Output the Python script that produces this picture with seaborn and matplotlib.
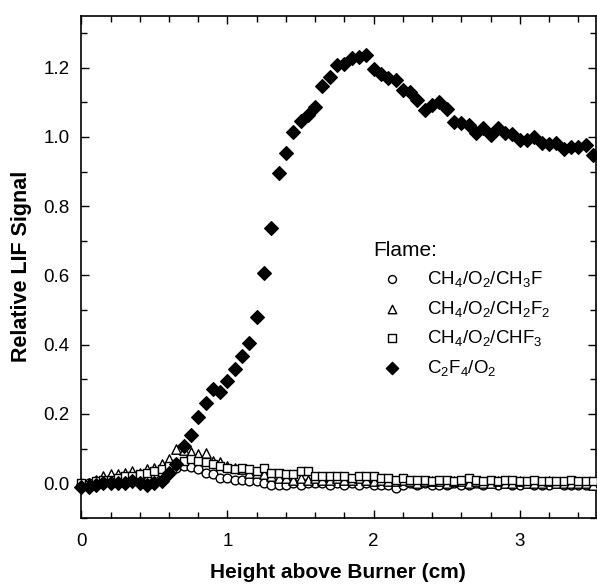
import numpy as np
import pandas as pd
import matplotlib
matplotlib.use('Agg')
import matplotlib.pyplot as plt
from matplotlib.ticker import MultipleLocator, FormatStrFormatter
import seaborn as sns

height = [0.00, 0.05, 0.10, 0.15, 0.20, 0.25, 0.30, 0.35, 0.40, 0.45,
          0.50, 0.55, 0.60, 0.65, 0.70, 0.75, 0.80, 0.85, 0.90, 0.95,
          1.00, 1.05, 1.10, 1.15, 1.20, 1.25, 1.30, 1.35, 1.40, 1.45,
          1.50, 1.55, 1.60, 1.65, 1.70, 1.75, 1.80, 1.85, 1.90, 1.95,
          2.00, 2.05, 2.10, 2.15, 2.20, 2.25, 2.30, 2.35, 2.40, 2.45,
          2.50, 2.55, 2.60, 2.65, 2.70, 2.75, 2.80, 2.85, 2.90, 2.95,
          3.00, 3.05, 3.10, 3.15, 3.20, 3.25, 3.30, 3.35, 3.40, 3.45,
          3.50]

ch3f = [-0.005, 0.000, 0.005, 0.005, 0.010, 0.010, 0.010, 0.015, 0.015, 0.020,
        0.025, 0.030, 0.040, 0.045, 0.050, 0.048, 0.040, 0.030, 0.025, 0.015,
        0.015, 0.010, 0.010, 0.005, 0.005, 0.000, -0.005, -0.005, -0.005, 0.000,
        -0.005, 0.000, 0.000, 0.000, -0.005, 0.000, -0.005, 0.000, -0.005, 0.000,
        -0.005, -0.005, -0.005, -0.015, -0.005, 0.000, -0.005, 0.000, -0.005, -0.005,
        -0.005, 0.000, -0.005, -0.005, 0.000, -0.005, 0.000, -0.005, 0.000, -0.005,
        -0.005, 0.000, -0.005, -0.005, -0.005, 0.000, -0.005, -0.005, -0.005, -0.005,
        -0.005]

ch2f2 = [0.000, 0.000, 0.010, 0.020, 0.025, 0.025, 0.030, 0.035, 0.030, 0.040,
         0.045, 0.055, 0.070, 0.100, 0.095, 0.090, 0.085, 0.088, 0.065, 0.060,
         0.050, 0.045, 0.040, 0.030, 0.030, 0.025, 0.020, 0.015, 0.015, 0.010,
         0.015, 0.010, 0.015, 0.010, 0.010, 0.015, 0.010, 0.010, 0.015, 0.010,
         0.005, 0.010, 0.005, 0.005, 0.010, 0.005, 0.000, 0.005, 0.005, 0.005,
         0.000, 0.005, 0.005, 0.000, 0.005, 0.000, 0.000, 0.005, 0.000, 0.000,
         0.005, 0.000, 0.000, 0.000, 0.005, 0.000, 0.000, 0.000, 0.000, 0.000,
         -0.005]

chf3 = [0.000, -0.005, 0.005, 0.010, 0.010, 0.015, 0.020, 0.020, 0.025, 0.030,
        0.035, 0.040, 0.050, 0.055, 0.065, 0.070, 0.065, 0.060, 0.055, 0.050,
        0.045, 0.040, 0.045, 0.040, 0.035, 0.045, 0.030, 0.030, 0.025, 0.025,
        0.035, 0.035, 0.020, 0.020, 0.020, 0.020, 0.020, 0.015, 0.020, 0.020,
        0.020, 0.015, 0.015, 0.010, 0.015, 0.010, 0.010, 0.010, 0.005, 0.010,
        0.010, 0.005, 0.010, 0.015, 0.010, 0.005, 0.010, 0.005, 0.010, 0.010,
        0.005, 0.005, 0.010, 0.005, 0.005, 0.005, 0.005, 0.010, 0.005, 0.005,
        0.005]

c2f4 = [-0.010, -0.010, -0.005, 0.000, 0.000, 0.000, 0.000, 0.005, 0.000, -0.005,
        0.000, 0.005, 0.030, 0.055, 0.107, 0.138, 0.192, 0.231, 0.273, 0.263,
        0.295, 0.331, 0.367, 0.405, 0.480, 0.607, 0.737, 0.897, 0.955, 1.013,
        1.047, 1.063, 1.087, 1.148, 1.172, 1.207, 1.212, 1.227, 1.230, 1.238,
        1.196, 1.182, 1.169, 1.164, 1.135, 1.130, 1.107, 1.078, 1.092, 1.102,
        1.081, 1.044, 1.041, 1.035, 1.012, 1.027, 1.006, 1.025, 1.012, 1.009,
        0.991, 0.991, 0.999, 0.982, 0.980, 0.983, 0.964, 0.972, 0.970, 0.977,
        0.948]

labels = [r'CH$_4$/O$_2$/CH$_3$F', r'CH$_4$/O$_2$/CH$_2$F$_2$',
          r'CH$_4$/O$_2$/CHF$_3$', r'C$_2$F$_4$/O$_2$']

sns.set_style('ticks')
plt.rcParams['font.family'] = ['Liberation Sans', 'DejaVu Sans']
plt.rcParams['mathtext.default'] = 'regular'
plt.rcParams['text.color'] = 'black'
plt.rcParams['axes.labelcolor'] = 'black'
plt.rcParams['xtick.color'] = 'black'
plt.rcParams['ytick.color'] = 'black'

fig = plt.figure(figsize=(5.97, 5.87), dpi=100)
ax = fig.add_axes([0.135, 0.118, 0.863, 0.855])

styles = [('o', 'white', 40), ('^', 'white', 46), ('s', 'white', 40), ('D', 'black', 48)]
for vals, lab, (mk, fc, sz) in zip([ch3f, ch2f2, chf3, c2f4], labels, styles):
    df = pd.DataFrame({'height': height, 'signal': vals})
    sns.scatterplot(data=df, x='height', y='signal', marker=mk, s=sz,
                    facecolor=fc, edgecolor='black', linewidth=1.0,
                    label=lab, ax=ax, clip_on=False, zorder=3)

ax.set_xlim(-0.005, 3.52)
ax.set_ylim(-0.1, 1.35)
ax.xaxis.set_major_locator(MultipleLocator(1))
ax.xaxis.set_minor_locator(MultipleLocator(0.2))
ax.yaxis.set_major_locator(MultipleLocator(0.2))
ax.yaxis.set_minor_locator(MultipleLocator(0.1))
ax.xaxis.set_major_formatter(FormatStrFormatter('%d'))
ax.yaxis.set_major_formatter(FormatStrFormatter('%.1f'))
ax.tick_params(which='both', direction='in', top=True, right=True,
               labelsize=13.5, width=1.0, pad=8)
ax.tick_params(axis='x', pad=11)
ax.tick_params(which='major', length=6)
ax.tick_params(which='minor', length=4)
for sp in ax.spines.values():
    sp.set_linewidth(1.2)
    sp.set_color('black')

ax.set_xlabel('Height above Burner (cm)', fontsize=15, fontweight='bold', labelpad=9)
ax.set_ylabel('Relative LIF Signal', fontsize=15.5, fontweight='bold', labelpad=8)

leg = ax.legend(title='Flame:', loc='upper left', bbox_to_anchor=(0.535, 0.585),
                frameon=False, fontsize=13.5, title_fontsize=15, alignment='left',
                labelspacing=0.5, handletextpad=0.9, markerscale=0.9)

fig.savefig('out.png', dpi=100)
